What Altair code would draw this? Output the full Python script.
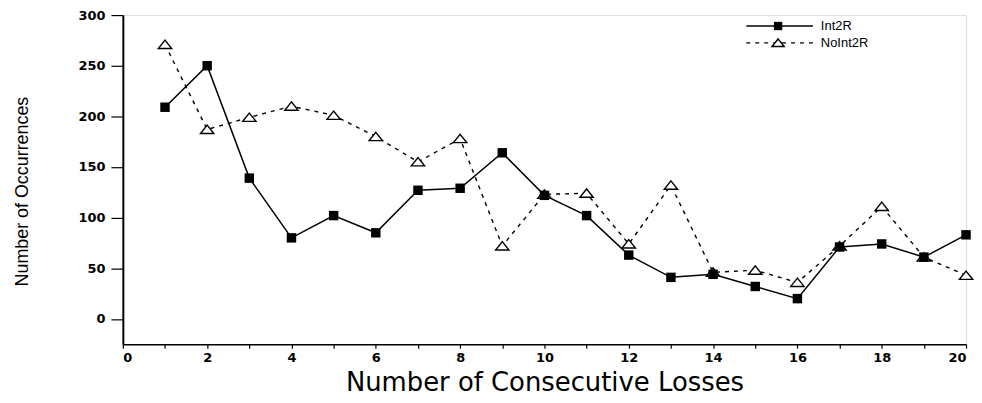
import altair as alt
import pandas as pd

# ---- data ----
losses = list(range(1, 21))
int2r = [209, 250, 139, 80, 102, 85, 127, 129, 164, 122, 102, 63, 41, 44, 32, 20, 71, 74, 61, 83]
noint2r = [271, 187, 199, 210, 201, 180, 155, 178, 72, 123, 124, 74, 132, 46, 48, 36, 72, 111, 61, 43]
series_names = ["Int2R", "NoInt2R"]
x_ticks = list(range(0, 21))
y_ticks = list(range(0, 301, 25))

df1 = pd.DataFrame({"Losses": losses, "Count": int2r, "Series": series_names[0]})
df2 = pd.DataFrame({"Losses": losses, "Count": noint2r, "Series": series_names[1]})

TRI = "M-1,0.6L1,0.6L0,-0.65Z"
W, H = 848, 331

xscale = alt.Scale(domain=[0, 20], nice=False, zero=False)
yscale = alt.Scale(domain=[-25, 300], nice=False, zero=False)

xaxis = alt.Axis(
    values=x_ticks,
    labelExpr="datum.value % 2 === 0 ? datum.label : ''",
    title="Number of Consecutive Losses",
    titleFont="DejaVu Sans", titleFontSize=26, titleFontWeight="normal",
    titleColor="black", titleBaseline="middle", titleY=39,
    labelFont="DejaVu Sans", labelFontSize=13, labelFontWeight="bold",
    labelColor="black", labelPadding=3,
    tickSize=4, tickColor="black", tickWidth=1.2,
    domainColor="black", domainWidth=1.5, grid=False,
)
yaxis = alt.Axis(
    values=y_ticks,
    labelExpr="datum.value % 50 === 0 ? datum.label : ''",
    title="Number of Occurrences",
    titleFont="Liberation Sans", titleFontSize=18, titleFontWeight="normal",
    titleColor="black", titleBaseline="middle", titleX=-101, titleY=177,
    titleAngle=-90, titleAlign="center",
    labelFont="DejaVu Sans", labelFontSize=13, labelFontWeight="bold",
    labelColor="black", labelPadding=6,
    tickSize={"condition": {"test": "datum.value % 50 === 0", "value": 12}, "value": 5},
    tickColor="black", tickWidth=1.2,
    domainColor="black", domainWidth=2, grid=False,
)

enc_x = alt.X("Losses:Q", scale=xscale, axis=xaxis)
enc_y = alt.Y("Count:Q", scale=yscale, axis=yaxis)
enc_x_na = alt.X("Losses:Q", scale=xscale)
enc_y_na = alt.Y("Count:Q", scale=yscale)

line1 = alt.Chart(df1).mark_line(color="black", strokeWidth=1.5).encode(x=enc_x, y=enc_y)
line2 = alt.Chart(df2).mark_line(color="black", strokeWidth=1.4, strokeDash=[4, 5]).encode(x=enc_x_na, y=enc_y_na)
pts1 = alt.Chart(df1).mark_point(shape="square", filled=True, color="black", size=90, opacity=1).encode(x=enc_x_na, y=enc_y_na)
pts2 = alt.Chart(df2).mark_point(shape=TRI, fill="white", stroke="black", strokeWidth=1.4,
                                 size=180, opacity=1, fillOpacity=1).encode(x=enc_x_na, y=enc_y_na)

# ---- manual legend (top right, inside plot) ----
one = pd.DataFrame({"k": [0]})
rows_y = [11, 28]
lx1, lx2, lmk, ltx = 627, 694, 659, 702
leg = []
leg.append(alt.Chart(one).mark_rule(color="black", strokeWidth=1.5).encode(
    x=alt.value(lx1), x2=alt.value(lx2), y=alt.value(rows_y[0])))
leg.append(alt.Chart(one).mark_point(shape="square", filled=True, color="black", size=70, opacity=1).encode(
    x=alt.value(lmk), y=alt.value(rows_y[0])))
leg.append(alt.Chart(one).mark_rule(color="black", strokeWidth=1.4, strokeDash=[4, 5]).encode(
    x=alt.value(lx1), x2=alt.value(lx2), y=alt.value(rows_y[1])))
leg.append(alt.Chart(one).mark_point(shape=TRI, fill="white", stroke="black", strokeWidth=1.4,
                                     size=150, opacity=1, fillOpacity=1).encode(
    x=alt.value(lmk), y=alt.value(rows_y[1])))
for i, name in enumerate(series_names):
    leg.append(alt.Chart(one).mark_text(text=name, align="left", baseline="middle",
                                        font="Liberation Sans", fontSize=13, color="black").encode(
        x=alt.value(ltx), y=alt.value(rows_y[i])))

chart = alt.layer(line2, line1, pts2, pts1, *leg).properties(
    width=W, height=H,
    autosize=alt.AutoSizeParams(type="none"),
    padding={"left": 115.5, "top": 6, "right": 8, "bottom": 55},
).configure_view(stroke="black", strokeWidth=1.5).configure(background="white")

chart.save("out.html", embed_options={"renderer": "svg", "actions": False})
